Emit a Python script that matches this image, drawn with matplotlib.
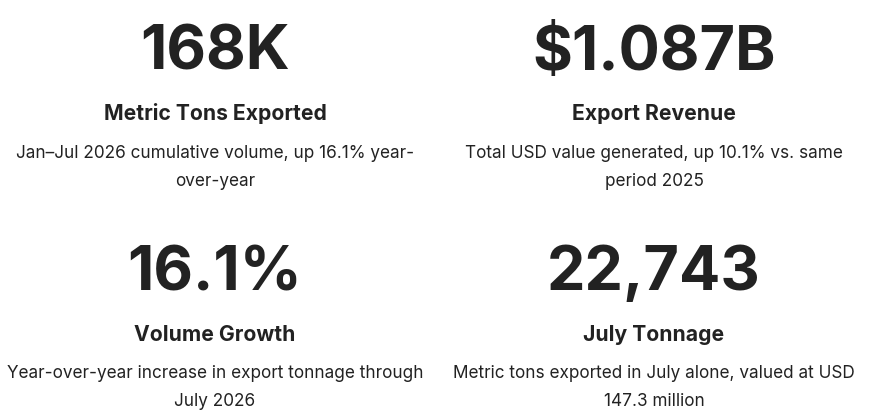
import matplotlib
matplotlib.use("Agg")
import matplotlib.pyplot as plt

values = ["168K", "$1.087B", "16.1%", "22,743"]
titles = ["Metric Tons Exported", "Export Revenue", "Volume Growth", "July Tonnage"]
descriptions = [
    "Jan\u2013Jul 2026 cumulative volume, up 16.1% year-\nover-year",
    "Total USD value generated, up 10.1% vs. same\nperiod 2025",
    "Year-over-year increase in export tonnage through\nJuly 2026",
    "Metric tons exported in July alone, valued at USD\n147.3 million",
]

W, H = 875, 415
fig = plt.figure(figsize=(W / 100, H / 100), dpi=100)
fig.patch.set_facecolor("white")
color = "#222222"
fam = ["Inter", "DejaVu Sans"]

col_x = [215, 654]
row_y = [0, 220]

def fx(x):
    return x / W

def fy(y):
    return 1 - y / H

for i, (v, t, d) in enumerate(zip(values, titles, descriptions)):
    cx = col_x[i % 2]
    oy = row_y[i // 2]
    fig.text(fx(cx), fy(oy + 70), v, ha="center", va="baseline",
             fontsize=44, fontweight="bold", color=color, family=fam)
    fig.text(fx(cx), fy(oy + 120.5), t, ha="center", va="baseline",
             fontsize=15.2, fontweight="bold", color=color, family=fam)
    for k, line in enumerate(d.split("\n")):
        fig.text(fx(cx), fy(oy + 158 + 28 * k), line, ha="center", va="baseline",
                 fontsize=12.35, color=color, family=fam)

fig.savefig("out.png", dpi=100, facecolor="white")
